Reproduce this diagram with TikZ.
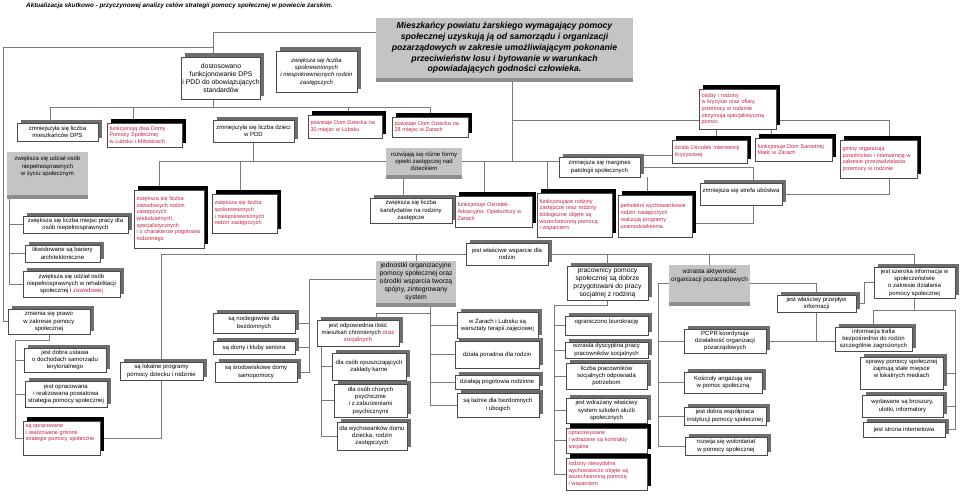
\documentclass[tikz,border=0pt]{standalone}
\usepackage{fontspec}
\setmainfont{Liberation Sans}
\usetikzlibrary{calc}
\pgfdeclarelayer{bg}
\pgfsetlayers{bg,main}
\definecolor{lc}{HTML}{7A7A7A}
\definecolor{bc}{HTML}{4A4A4A}
\definecolor{sg}{HTML}{6E6E6E}
\definecolor{kg}{HTML}{C4C4C4}
\definecolor{kd}{HTML}{8E8E8E}
\definecolor{rt}{HTML}{C8203A}
\newcommand\bbx[7][wbox]{%
 \pgfmathsetmacro\bxw{#5-#3}%
 \pgfmathsetmacro\bxh{#6-#4}%
 \pgfmathsetmacro\bxtw{#5-#3-5}%
 \pgfmathsetmacro\bxcx{(#3+#5)/2}%
 \pgfmathsetmacro\bxcy{(#4+#6)/2}%
 \node[#1,minimum width=\bxw pt,minimum height=\bxh pt] (#2) at (\bxcx,\bxcy) {#7};}
\begin{document}
\begin{tikzpicture}[x=1pt,y=-1pt,
 base/.style={inner sep=1pt, align=center, font=\fontsize{6}{7.3}\selectfont},
 wbox/.style={base, draw=bc, line width=0.5pt, fill=white, preaction={draw=none, fill=sg, transform canvas={xshift=3.5pt, yshift=3.5pt}}},
 rbox/.style={base, draw=bc, line width=0.5pt, fill=white, text=rt, font=\fontsize{5.5}{6.7}\selectfont, align=left, text width=\bxtw pt, preaction={draw=none, fill=black, transform canvas={xshift=4pt, yshift=4pt}}},
 kbox/.style={base, fill=kg, preaction={draw=none, fill=kd, transform canvas={yshift=-3.5pt}}},
 big/.style={font=\fontsize{6.8}{8}\selectfont},
 mid/.style={font=\fontsize{6.4}{7.7}\selectfont},
 ln/.style={draw=lc, line width=0.6pt}]
\useasboundingbox (0,0) rectangle (960,495);
\begin{pgfonlayer}{bg}
\fill[white] (0,0) rectangle (960,495);
\end{pgfonlayer}

\node[anchor=west, inner sep=0, font=\fontsize{6.35}{8}\selectfont\bfseries\itshape] (title) at (26,6) {Aktualizacja skutkowo - przyczynowej analizy celów strategii pomocy społecznej w powiecie żarskim.};

\bbx[kbox,font=\fontsize{8.7}{10.8}\selectfont\bfseries\itshape]{root}{376}{18}{633}{78}{Mieszkańcy powiatu żarskiego wymagający pomocy\\społecznej uzyskują ją od samorządu  i organizacji\\pozarządowych w zakresie umożliwiającym pokonanie\\przeciwieństw losu i bytowanie w warunkach\\opowiadających godności człowieka.}

\bbx[wbox,big]{dost}{182}{57}{260}{99}{dostosowano\\funkcjonowanie DPS\\i PDD do obowiązujących\\standardów}
\bbx[wbox,font=\fontsize{6}{7.3}\selectfont\itshape]{spok1}{276}{51}{357}{92}{zwiększa się liczba\\spokrewnionych\\i niespokrewnionych rodzin\\zastępczych}

\bbx[wbox]{dps}{17}{123}{98}{141}{zmniejszyła się liczba\\mieszkańców DPS}
\bbx[rbox]{dwa}{107}{123}{182}{147}{funkcjonują dwa Domy\\Pomocy Społecznej\\w Lubsku i Miłowicach}
\bbx[wbox]{pdd}{213}{120}{294}{142}{zmniejszyła się liczba dzieci\\w PDD}
\bbx[rbox]{dd30}{308}{115}{382}{138}{powstaje Dom Dziecka na\\30 miejsc w Lubsku}
\bbx[rbox]{dd28}{392}{117}{468}{137}{powstaje Dom Dziecka na\\28 miejsc w Żarach}
\bbx[rbox]{osoby}{699}{89}{776}{129}{osoby i rodziny\\w kryzysie oraz ofiary\\przemocy w rodzinie\\otrzymują specjalistyczną\\pomoc}
\bbx[rbox]{oik}{672}{140}{747}{163}{działa Ośrodek Interwencji\\Kryzysowej}
\bbx[rbox]{dsm}{755}{138}{832}{161}{funkcjonuje Dom Samotnej\\Matki w Żarach}
\bbx[rbox]{gminy}{840}{140}{917}{178}{gminy organizują\\poradnictwo i interwencję w\\zakresie przeciwdziałania\\przemocy w rodzinie}

\bbx[kbox]{niepel}{7}{152}{88}{195}{zwiększa się udział osób\\niepełnosprawnych\\w życiu społecznym\\[8pt]\mbox{}}
\bbx[kbox]{rozw}{386}{148}{462}{175}{rozwijają się różne formy\\opieki zastępczej nad\\dzieckiem}
\bbx[wbox]{marg}{559}{157}{640}{177}{zmniejsza się margines\\patologii społecznych}
\bbx[wbox]{strefa}{700}{183}{782}{205}{zmniejsza się strefa ubóstwa\\\mbox{}}

\bbx[rbox]{zaw}{134}{190}{204}{248}{zwiększa się liczba\\zawodowych rodzin\\zastępczych\\wielodzietnych,\\specjalistycznych\\i o charakterze pogotowia\\rodzinnego}
\bbx[rbox]{spok2}{212}{194}{277}{233}{zwiększa się liczba\\spokrewnionych\\i niespokrewnionych\\rodzin zastępczych}
\bbx[wbox]{kand}{370}{198}{452}{223}{zwiększa się liczba\\kandydatów na rodziny\\zastępcze}
\bbx[rbox]{adop}{455}{196}{532}{227}{funkcjonuje Ośrodek\\Adopcyjno- Opiekuńczy  w\\Żarach}
\bbx[rbox]{frz}{537}{193}{612}{237}{funkcjonujące rodziny\\zastępcze oraz rodziny\\biologiczne objęte są\\wszechstronną pomocą\\i wsparciem}
\bbx[rbox]{peln}{618}{195}{692}{237}{pełnoletni wychowankowie\\rodzin zastępczych\\realizują programy\\usamodzielnienia}

\bbx[wbox]{praca}{23}{216}{128}{233}{zwiększa się liczba miejsc pracy dla\\osób niepełnosprawnych}
\bbx[wbox]{bariery}{25}{245}{100}{262}{likwidowane są bariery\\architektoniczne}
\bbx[wbox]{rehab}{23}{271}{120}{297}{zwiększa się udział osób\\niepełnosprawnych w rehabilitacji\\społecznej i {\color{rt}zawodowej}}

\bbx[wbox]{wsparcie}{466}{243}{548}{265}{jest właściwe wsparcie dla\\rodzin}
\bbx[kbox,big]{jedn}{376}{261}{456}{303}{jednostki organizacyjne\\pomocy społecznej oraz\\ośrodki wsparcia tworzą\\spójny, zintegrowany\\system}
\bbx[wbox,big]{prac}{567}{266}{648}{300}{pracownicy pomocy\\społecznej są dobrze\\przygotowani do pracy\\socjalnej z rodziną}
\bbx[kbox,mid]{wzr}{669}{265}{750}{302}{wzrasta aktywność\\organizacji pozarządowych\\[9pt]\mbox{}}
\bbx[wbox]{szer}{874}{267}{955}{298}{jest szeroka informacja  w\\społeczeństwie\\o zakresie działania\\pomocy społecznej}
\bbx[wbox]{przep}{777}{295}{856}{312}{jest właściwy przepływ\\informacji}

\bbx[wbox]{prawo}{8}{309}{90}{334}{zmienia się prawo\\w zakresie pomocy\\społecznej}
\bbx[wbox]{nocl}{213}{313}{295}{333}{są noclegownie dla\\bezdomnych}
\bbx[wbox]{klub}{213}{341}{295}{354}{są domy i kluby seniora}
\bbx[wbox]{srod}{215}{362}{297}{382}{są środowiskowe domy\\samopomocy}
\bbx[wbox]{miesz}{317}{320}{399}{346}{jest odpowiednia ilość\\mieszkań chronionych {\color{rt}oraz}\\{\color{rt}socjalnych}}
\bbx[wbox]{warszt}{457}{312}{538}{338}{w Żarach i Lubsku są\\warsztaty terapii zajęciowej}
\bbx[wbox]{porad}{455}{341}{539}{368}{działa poradnia dla rodzin}
\bbx[wbox]{pogot}{455}{375}{539}{389}{działają pogotowia rodzinne}
\bbx[wbox]{lazn}{457}{393}{539}{417}{są łaźnie dla bezdomnych\\i ubogich}
\bbx[wbox]{opusz}{332}{353}{406}{380}{dla osób opuszczających\\zakłady karne}
\bbx[wbox]{chor}{334}{384}{407}{417}{dla osób chorych\\psychicznie\\i z zaburzeniami\\psychicznymi}
\bbx[wbox]{wych}{337}{422}{407}{450}{dla wychowanków domu\\dziecka, rodzin\\zastępczych}

\bbx[wbox]{biur}{565}{316}{648}{335}{ograniczono biurokrację\\[2pt]\mbox{}}
\bbx[wbox]{dysc}{565}{342}{648}{358}{wzrasta dyscyplina pracy\\pracowników socjalnych}
\bbx[wbox]{liczba}{566}{363}{647}{389}{liczba pracowników\\socjalnych odpowiada\\potrzebom}
\bbx[wbox]{szkol}{566}{398}{647}{423}{jest wdrażany właściwy\\system szkoleń służb\\społecznych}
\bbx[rbox]{kontr}{566}{428}{647}{453}{opracowywane\\i wdrażane są kontrakty\\socjalne}
\bbx[rbox]{niewyd}{566}{458}{647}{490}{rodziny niewydolne\\wychowawczo objęte są\\wszechstronną pomocą\\i wsparciem}

\bbx[wbox]{pcpr}{684}{329}{766}{353}{PCPR koordynuje\\działalność organizacji\\pozarządowych}
\bbx[wbox]{kosc}{684}{372}{762}{393}{Kościoły angażują się\\w pomoc społeczną}
\bbx[wbox]{wspol}{684}{407}{766}{425}{jest dobra współpraca\\instytucji pomocy społecznej}
\bbx[wbox]{wolon}{685}{437}{767}{455}{rozwija się wolontariat\\w pomocy społecznej}
\bbx[wbox]{traf}{835}{327}{912}{351}{informacja trafia\\bezpośrednio do rodzin\\szczególnie zagrożonych}
\bbx[wbox]{media}{860}{357}{943}{389}{sprawy pomocy społecznej\\zajmują stałe miejsce\\w lokalnych mediach\\[2pt]\mbox{}}
\bbx[wbox]{brosz}{862}{395}{943}{417}{wydawane są broszury,\\ulotki, informatory}
\bbx[wbox]{www}{863}{422}{945}{437}{jest strona internetowa}

\bbx[wbox]{ustawa}{24}{348}{106}{372}{jest dobra ustawa\\o dochodach samorządu\\terytorialnego}
\bbx[wbox]{powiat}{25}{381}{107}{407}{jest opracowana\\i realizowana powiatowa\\strategia pomocy społecznej}
\bbx[rbox]{gminne}{23}{421}{100}{455}{są opracowane\\i realizowane gminne\\strategie pomocy społeczne\\[4pt]\mbox{}}
\bbx[wbox]{lokal}{120}{362}{203}{380}{są lokalne  programy\\pomocy dziecku i rodzinie}

\begin{pgfonlayer}{bg}
% root to the left branch
\coordinate (c32) at (213,32);
\draw[ln] (c32 -| root.west) -- (c32) -- (c32 |- dost.north);
\coordinate (L1) at (3,47);
\draw[ln] (prawo.west) -| (L1) -- (L1 -| c32);
% DPS / PDD row
\coordinate (H) at (0,107);
\draw[ln] ([xshift=-7pt]dps.north) |- (dd28.north |- H) -- (dd28.north);
\draw[ln] ([xshift=-11pt]dwa.north) -- ([xshift=-11pt]dwa.north |- H);
\draw[ln] (dost.south -| c32) -- (H -| c32);
\draw[ln] ([xshift=3pt]dd30.north) -- ([xshift=3pt]dd30.north |- H);
% care forms row
\draw[ln] ([xshift=-10pt]zaw.north) |- (rozw.west);
\draw[ln] ([xshift=-4.5pt]spok2.north) -- ([xshift=-4.5pt]spok2.north |- rozw.west);
\draw[ln] (pdd.south) -- (pdd.south |- rozw.west);
\draw[ln] (rozw.east) -- (rozw.east -| marg.west);
\coordinate (rl) at ([xshift=7.5pt]root.south);
\draw[ln] (rl) -- (rl |- rozw.east);
\draw[ln] ([xshift=-9.5pt]adop.north) -- ([xshift=-9.5pt]adop.north |- rozw.east);
\draw[ln] ([xshift=-27.5pt]frz.north) -- ([xshift=-27.5pt]frz.north |- rozw.east);
\draw[ln] ([xshift=-21pt]rozw.south) -- ([xshift=-21pt]rozw.south |- kand.north);
% crisis group
\draw[ln] ([yshift=-11pt]osoby.west) -- ([yshift=-11pt]osoby.west -| rl);
\draw[ln] ([yshift=-11pt]osoby.east) -| ([xshift=10.5pt]gminy.north);
\draw[ln] ([xshift=6.5pt]oik.north) -- ([xshift=6.5pt]oik.north |- osoby.south);
\draw[ln] ([xshift=-22.5pt]dsm.north) -- ([xshift=-22.5pt]dsm.north |- osoby.south);
% margin / poverty
\draw[ln] ([yshift=-3.5pt]oik.west) -- ([yshift=-3.5pt]oik.west -| marg.east);
\draw[ln] (marg.east) -| ([xshift=12pt]strefa.north);
\draw[ln] ([xshift=12pt]strefa.south) |- ([yshift=-7pt]peln.east);
\draw[ln] (strefa.east) -| ([xshift=11pt]gminy.south);
\draw[ln] ([xshift=-8pt]peln.north) -- ([xshift=-8pt]peln.north |- marg.south);
% disabled
\coordinate (nv) at ([xshift=2pt]niepel.south west);
\draw[ln] (nv) |- (rehab.west);
\draw[ln] (praca.west) -- (praca.west -| nv);
\draw[ln] (bariery.west) -- (bariery.west -| nv);
% long middle line
\draw[ln] (wsparcie.west) -| (lokal.north);
\draw[ln] (lokal.south) |- (gminne.east);
\draw[ln] (wsparcie.east) -| (szer.north);
\draw[ln] (jedn.north) -- (jedn.north |- wsparcie.west);
\draw[ln] (prac.north) -- (prac.north |- wsparcie.east);
\draw[ln] (wzr.north) -- (wzr.north |- wsparcie.east);
% units
\draw[ln] ([yshift=3pt]jedn.west) -| ([xshift=12pt]srod.east) -- (srod.east);
\draw[ln] (nocl.east) -- ++(14,0);
\draw[ln] (klub.east) -- ++(14,0);
\coordinate (jv) at ([xshift=14pt]jedn.south);
\draw[ln] (jv) |- (lazn.west);
\draw[ln] (warszt.west) -- (warszt.west -| jv);
\draw[ln] (porad.west) -- (porad.west -| jv);
\draw[ln] (pogot.west) -- (pogot.west -| jv);
\draw[ln] ([xshift=18pt]miesz.north) |- ($(jv)+(0,10)$);
\coordinate (mv) at ([xshift=5pt]miesz.south west);
\draw[ln] (mv) |- (wych.west);
\draw[ln] (opusz.west) -- (opusz.west -| mv);
\draw[ln] (chor.west) -- (chor.west -| mv);
% staff
\coordinate (pv) at ($(prac.south)+(-53.5,5)$);
\draw[ln] (prac.south) |- (pv) |- (niewyd.west);
\draw[ln] (biur.west) -- (biur.west -| pv);
\draw[ln] (dysc.west) -- (dysc.west -| pv);
\draw[ln] (liczba.west) -- (liczba.west -| pv);
\draw[ln] (szkol.west) -- (szkol.west -| pv);
\draw[ln] (kontr.west) -- (kontr.west -| pv);
% NGOs
\coordinate (wv) at ($(wzr.west)+(-11,0)$);
\draw[ln] (wzr.west) -- (wv) |- (wolon.west);
\draw[ln] (pcpr.west) -- (pcpr.west -| wv);
\draw[ln] (kosc.west) -- (kosc.west -| wv);
\draw[ln] (wspol.west) -- (wspol.west -| wv);
\draw[ln] (wzr.east) -| (przep.north);
\draw[ln] (przep.south) -- (przep.south |- pcpr.east);
\draw[ln] (pcpr.east) -- (pcpr.east -| traf.west);
\draw[ln] (przep.east) -- ++(8,0) |- (szer.west);
\coordinate (sv) at ($(szer.south)+(0,12)$);
\draw[ln] (szer.south) -- (sv);
\draw[ln] (traf.north) |- (sv) -- ++(40.5,0) coordinate (sv2) |- (www.east);
\draw[ln] (media.east) -- (media.east -| sv2);
\draw[ln] (brosz.east) -- (brosz.east -| sv2);
% law
\coordinate (pw) at ($(prawo.south)+(-34,6)$);
\draw[ln] (prawo.south) |- (pw) |- (gminne.west);
\draw[ln] (ustawa.west) -- (ustawa.west -| pw);
\draw[ln] (powiat.west) -- (powiat.west -| pw);
\end{pgfonlayer}
\end{tikzpicture}
\end{document}
